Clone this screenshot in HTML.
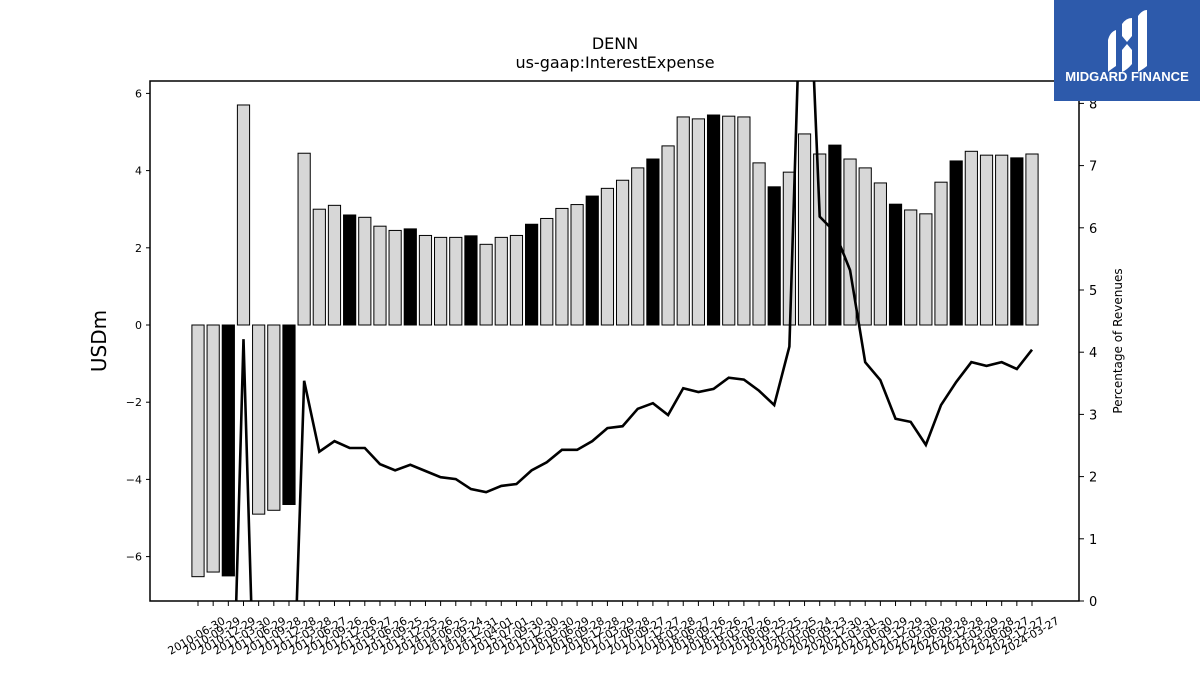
<!DOCTYPE html>
<html><head><meta charset="utf-8"><style>
body{margin:0;background:#fff;font-family:"Liberation Sans","DejaVu Sans",sans-serif;overflow:hidden;width:1200px;height:675px}
svg{display:block}
svg text{font-family:"DejaVu Sans","Liberation Sans",sans-serif}
</style></head><body>
<svg id="chart" width="1200" height="675" xmlns="http://www.w3.org/2000/svg">
<rect x="0" y="0" width="1200" height="675" fill="#fff"/>
<text x="615" y="49" font-size="16" text-anchor="middle">DENN</text>
<text x="615" y="68" font-size="16" text-anchor="middle">us-gaap:InterestExpense</text>
<g id="bars"></g>
<g id="line"></g>
<rect x="150" y="81" width="929" height="520" fill="none" stroke="#000" stroke-width="1.5"/>
<g id="ylab"></g>
<g id="rlab"></g>
<g id="xlab"></g>
<text transform="translate(106,341) rotate(-90)" font-size="20" text-anchor="middle">USDm</text>
<text transform="translate(1122,341) rotate(-90)" font-size="12" text-anchor="middle">Percentage of Revenues</text>
<g>
<rect x="1054" y="0" width="146" height="101" fill="#2d5aab"/>
<path d="M1108 40 Q1110 32 1116 30 L1116 66 Q1110 70 1108 72 Z M1138 16 Q1142 10 1147 10 L1147 66 Q1142 70 1138 72 Z M1122 24 Q1126 18 1132 18 L1132 36 L1127 42 L1122 36 Z M1122 50 L1127 44 L1132 50 L1132 64 Q1127 70 1122 72 Z" fill="#fff"/>
<text x="1127" y="81" font-size="13" font-weight="bold" fill="#fff" text-anchor="middle" style="font-family:'Liberation Sans',sans-serif">MIDGARD FINANCE</text>
</g>
</svg>
<script>
const dates=["2010-06-30","2010-09-29","2010-12-29","2011-03-30","2011-06-29","2011-09-28","2011-12-28","2012-03-28","2012-06-27","2012-09-26","2012-12-26","2013-03-27","2013-06-26","2013-09-25","2013-12-25","2014-03-26","2014-06-25","2014-09-24","2014-12-31","2015-04-01","2015-07-01","2015-09-30","2015-12-30","2016-03-30","2016-06-29","2016-09-28","2016-12-28","2017-03-29","2017-06-28","2017-09-27","2017-12-27","2018-03-28","2018-06-27","2018-09-26","2018-12-26","2019-03-27","2019-06-26","2019-09-25","2019-12-25","2020-03-25","2020-06-24","2020-09-23","2020-12-30","2021-03-31","2021-06-30","2021-09-29","2021-12-29","2022-03-30","2022-06-29","2022-09-28","2022-12-28","2023-03-29","2023-06-28","2023-09-27","2023-12-27","2024-03-27"];
const expense=[-6.52,-6.4,-6.5,5.7,-4.9,-4.8,-4.65,4.45,3.0,3.1,2.85,2.79,2.56,2.45,2.49,2.32,2.27,2.27,2.31,2.09,2.27,2.32,2.61,2.76,3.02,3.12,3.34,3.54,3.75,4.07,4.3,4.64,5.39,5.34,5.44,5.41,5.39,4.2,3.58,3.96,4.95,4.43,4.66,4.3,4.07,3.68,3.13,2.98,2.88,3.7,4.25,4.5,4.4,4.4,4.33,4.43];
const pct=[-4.5,-4.5,-4.6,4.21,-4.1,-4.0,-3.8,3.54,2.4,2.57,2.46,2.46,2.2,2.1,2.19,2.09,1.99,1.96,1.8,1.75,1.85,1.88,2.1,2.23,2.43,2.43,2.57,2.78,2.81,3.09,3.18,2.99,3.42,3.36,3.41,3.59,3.56,3.38,3.15,4.09,12.0,6.18,5.93,5.32,3.84,3.55,2.93,2.88,2.51,3.15,3.52,3.84,3.78,3.84,3.73,4.04];
const leftTicks=[-6,-4,-2,0,2,4,6];
const rightTicks=[0,1,2,3,4,5,6,7,8];
const NS="http://www.w3.org/2000/svg";
const L=150,R=1079,T=81,B=601;
const x0=198,step=(1032-198)/(dates.length-1);
const xs=i=>x0+i*step;
const yL=v=>325-v*38.6;
const yR=v=>601-v*62.2;
function mk(tag,attrs,parent){const e=document.createElementNS(NS,tag);for(const k in attrs)e.setAttribute(k,attrs[k]);parent.appendChild(e);return e;}
const bars=document.getElementById('bars');
expense.forEach((v,i)=>{
 const y0=yL(0),y1=Math.max(T,Math.min(B,yL(v)));
 const r=mk('rect',{x:xs(i)-6.1,y:Math.min(y0,y1),width:12.2,height:Math.abs(y1-y0),fill:(i%4==2)?'#000':'#d7d7d7',stroke:'#000','stroke-width':1},bars);
 
 
});
const cp=mk('clipPath',{id:'clip'},document.getElementById('chart'));
mk('rect',{x:L,y:T,width:R-L,height:B-T},cp);
const line=document.getElementById('line');
const pl=mk('polyline',{points:pct.map((v,i)=>xs(i)+','+yR(v)).join(' '),fill:'none',stroke:'#000','stroke-width':2.6,'stroke-linejoin':'miter','clip-path':'url(#clip)'},line);


const yl=document.getElementById('ylab');
leftTicks.forEach(t=>{const y=yL(t);mk('line',{x1:L-4,x2:L,y1:y,y2:y,stroke:'#000'},yl);
 const tx=mk('text',{x:L-8,y:y+4,'font-size':11,'text-anchor':'end'},yl);tx.textContent=t==0?'0':(t<0?'\u2212'+(-t):t);
 
 });
const rl=document.getElementById('rlab');
rightTicks.forEach(t=>{const y=yR(t);mk('line',{x1:R,x2:R+5,y1:y,y2:y,stroke:'#000'},rl);
 const tx=mk('text',{x:R+10,y:y+5,'font-size':13},rl);tx.textContent=t;
 
 });
const xl=document.getElementById('xlab');
dates.forEach((d,i)=>{const x=xs(i);mk('line',{x1:x,x2:x,y1:B,y2:B+5,stroke:'#000'},xl);
 const tx=mk('text',{transform:`translate(${x+28},${B+22}) rotate(-30)`,'font-size':11,'text-anchor':'end'},xl);tx.textContent=d;
 
 });
</script>
</body></html>
